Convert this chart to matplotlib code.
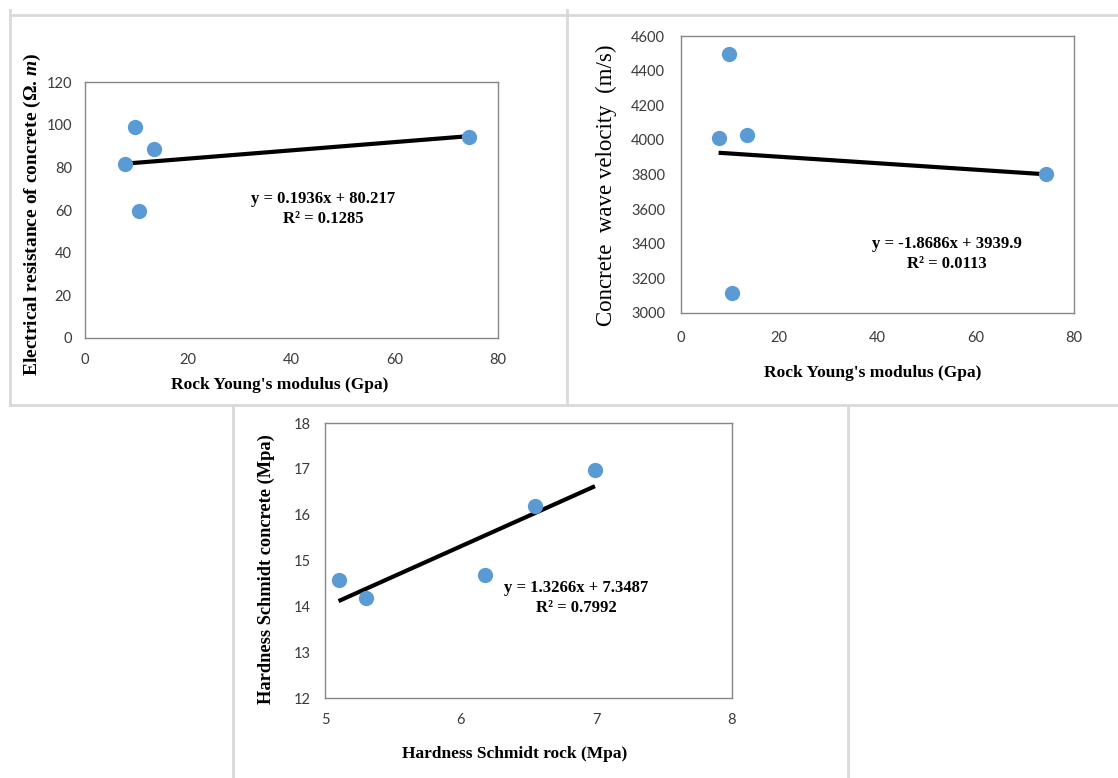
import matplotlib
matplotlib.use("Agg")
import matplotlib.pyplot as plt
from matplotlib.lines import Line2D

# ---- data ----
young_gpa = [7.75, 9.7, 13.4, 10.5, 74.4]
resistance = [81.6, 98.8, 88.4, 59.5, 94.4]
fit_res = (0.1936, 80.217, 0.1285)

young_gpa2 = [9.7, 7.65, 13.5, 10.4, 74.3]
wave_velocity = [4496, 4008, 4027, 3114, 3800]
fit_vel = (-1.8686, 3939.9, 0.0113)

schmidt_rock = [5.1, 5.3, 6.18, 6.55, 6.99]
schmidt_concrete = [14.58, 14.18, 14.68, 16.18, 16.97]
fit_sch = (1.3266, 7.3487, 0.7992)

W, H = 1118, 778
BLUE = "#5B9BD5"
TICK_FONT = "Lato"
LABEL_FONT = "Liberation Serif"

plt.rcParams["mathtext.fontset"] = "custom"
plt.rcParams["mathtext.rm"] = "Liberation Serif:bold"
plt.rcParams["mathtext.it"] = "Liberation Serif:italic:bold"
plt.rcParams["mathtext.bf"] = "Liberation Serif:bold"

fig = plt.figure(figsize=(W / 100, H / 100), dpi=100)


def px_axes(x0, y0, x1, y1):
    # axes box given in figure pixels (top-left origin)
    return fig.add_axes([x0 / W, 1 - y1 / H, (x1 - x0) / W, (y1 - y0) / H])


def style(ax, xpad, ypad):
    for s in ax.spines.values():
        s.set_color("#868686")
        s.set_linewidth(1.0)
    ax.tick_params(length=0, labelsize=10.5, labelcolor="#3a3a3a")
    ax.tick_params(axis="x", pad=xpad)
    ax.tick_params(axis="y", pad=ypad)
    for lab in ax.get_xticklabels() + ax.get_yticklabels():
        lab.set_fontfamily(TICK_FONT)


def scatter_fit(ax, xs, ys, fit):
    a, b, _ = fit
    lo, hi = min(xs), max(xs)
    ax.plot([lo, hi], [a * lo + b, a * hi + b], color="black", lw=3, zorder=2,
            solid_capstyle="butt")
    ax.plot(xs, ys, "o", ms=11, color=BLUE, mec="none", zorder=3)


def equation(cx, cy, fit):
    a, b, r2 = fit
    sign = "-" if a < 0 else ""
    txt = f"y = {sign}{abs(a):g}x + {b:g}\nR\u00b2 = {r2:g}"
    fig.text(cx / W, 1 - cy / H, txt, ha="center", va="center",
             family=LABEL_FONT, fontweight="bold", fontsize=12,
             linespacing=1.3)


# panel 1
ax1 = px_axes(85, 82, 498, 338)
scatter_fit(ax1, young_gpa, resistance, fit_res)
ax1.set_xlim(0, 80)
ax1.set_ylim(0, 120)
ax1.set_xticks(range(0, 81, 20))
ax1.set_yticks(range(0, 121, 20))
style(ax1, 11, 9.5)
fig.text(280 / W, 1 - 385 / H, "Rock Young's modulus (Gpa)", ha="center", va="center",
         family=LABEL_FONT, fontweight="bold", fontsize=12.5)
fig.text(32 / W, 1 - 214 / H, "Electrical resistance of concrete (\u03a9. $m$)",
         ha="center", va="center", rotation=90, family=LABEL_FONT,
         fontweight="bold", fontsize=14)
equation(323, 209, fit_res)

# panel 2
ax2 = px_axes(681, 36, 1074, 313)
scatter_fit(ax2, young_gpa2, wave_velocity, fit_vel)
ax2.set_xlim(0, 80)
ax2.set_ylim(3000, 4600)
ax2.set_xticks(range(0, 81, 20))
ax2.set_yticks(range(3000, 4601, 200))
style(ax2, 13, 11.5)
fig.text(873 / W, 1 - 373 / H, "Rock Young's modulus (Gpa)", ha="center", va="center",
         family=LABEL_FONT, fontweight="bold", fontsize=12.5)
fig.text(606 / W, 1 - 185 / H, "Concrete  wave velocity  (m/s)", ha="center",
         va="center", rotation=90, family=LABEL_FONT, fontsize=16.5)
equation(947, 254, fit_vel)

# panel 3
ax3 = px_axes(325, 423, 732, 698)
scatter_fit(ax3, schmidt_rock, schmidt_concrete, fit_sch)
ax3.set_xlim(5, 8)
ax3.set_ylim(12, 18)
ax3.set_xticks(range(5, 9))
ax3.set_yticks(range(12, 19))
style(ax3, 11, 10)
fig.text(515 / W, 1 - 754 / H, "Hardness Schmidt rock (Mpa)", ha="center", va="center",
         family=LABEL_FONT, fontweight="bold", fontsize=12.5)
fig.text(266 / W, 1 - 569 / H, "Hardness Schmidt concrete (Mpa)", ha="center",
         va="center", rotation=90, family=LABEL_FONT, fontweight="bold", fontsize=13.2)
equation(576, 598, fit_sch)

# light grey panel frames
frames = [
    ((10, 15), (1118, 15)),
    ((10, 10), (10, 405)),
    ((567, 10), (567, 405)),
    ((10, 405), (1118, 405)),
    ((233, 405), (233, 778)),
    ((848, 405), (848, 778)),
]
for (xa, ya), (xb, yb) in frames:
    fig.add_artist(Line2D([xa / W, xb / W], [1 - ya / H, 1 - yb / H],
                          color="#d9d9d9", lw=2, transform=fig.transFigure))

fig.savefig("out.png", dpi=100)
